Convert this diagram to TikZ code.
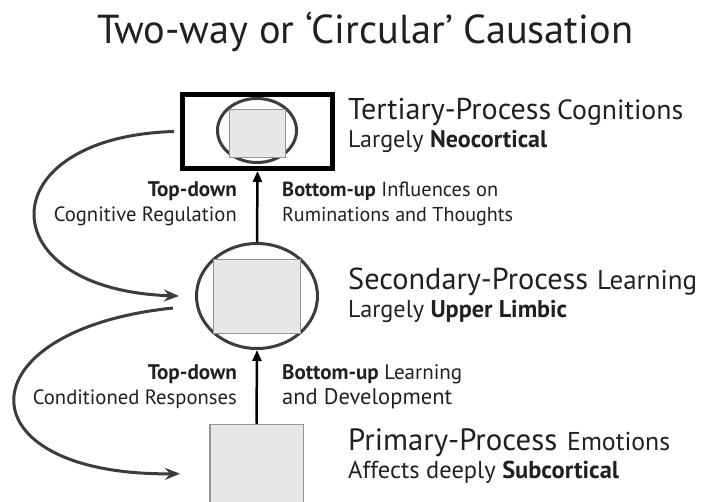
\documentclass[tikz,border=0pt]{standalone}
\usepackage{fontspec}
\setmainfont{PT Sans}
\usetikzlibrary{shapes.geometric,arrows.meta}
\definecolor{ink}{HTML}{231F20}
\definecolor{rim}{HTML}{3C3C3C}
\definecolor{panel}{HTML}{E6E7E8}
\definecolor{panelrim}{HTML}{939598}
% set #2 at the font size that makes it #1 pt wide
\newlength\fitlen
\newcommand\fitto[2]{%
  \setbox0=\hbox{\fontsize{10pt}{12pt}\selectfont #2}%
  \fitlen=\wd0
  \pgfmathsetmacro\fitsize{10*#1/\fitlen}%
  \fontsize{\fitsize pt}{\fitsize pt}\selectfont #2}
\begin{document}
\begin{tikzpicture}[x=1pt,y=-1pt,
  txt/.style={inner sep=0pt,text=ink},
  lefttxt/.style={txt,anchor=base west},
  righttxt/.style={txt,anchor=base east},
  core/.style={draw=panelrim,fill=panel,line width=1.5pt,inner sep=0pt},
  ring/.style={ellipse,draw=rim,line width=3pt,inner sep=0pt},
  upflow/.style={line width=2.5pt,-{Triangle[length=11pt,width=9pt]}},
  loopback/.style={draw=rim,line width=3pt,-{Stealth[length=15pt,width=12pt,inset=5pt]}}]
\useasboundingbox (0,0) rectangle (704,502);

% title
\node[txt,anchor=base west] (title) at (97,44) {\fitto{536}{Two-way or ‘Circular’ Causation}};

% tertiary level: framed box with ring and core
\node[draw=black,line width=5pt,minimum width=150pt,minimum height=74pt,inner sep=0pt] (tbox) at (257.5,131.5) {};
\node[ring,minimum width=79pt,minimum height=64pt] (tring) at (257,130.5) {};
\node[core,minimum width=56pt,minimum height=48pt] (tcore) at (257.5,133.5) {};

% secondary level: ring with core
\node[ring,minimum width=121pt,minimum height=105pt] (mring) at (257,296) {};
\node[core,minimum width=87pt,minimum height=74pt] (mcore) at (257,296.5) {};

% primary level: core running off the bottom
\node[core,anchor=north,minimum width=93.5pt,minimum height=150pt] (bcore) at (256.5,423.75) {};

% bottom-up arrows
\draw[upflow] (mring.north) -- (tbox.south);
\draw[upflow] (bcore.north) -- (mring.south);

% top-down loops
\coordinate (l1s) at ([xshift=-6pt]tbox.west);
\coordinate (l1e) at ([xshift=-16pt]mring.west);
\coordinate (l2s) at ([xshift=-22pt,yshift=-12pt]mring.west);
\coordinate (l2e) at ([xshift=-29pt,yshift=-50pt]bcore.north west);
\draw[loopback] (l1s) .. controls +(-186,5.5) and +(-191,-6) .. (l1e);
\draw[loopback] (l2s) .. controls +(-212,22) and +(-219,2) .. (l2e);

% level captions
\node[lefttxt] (t3h) at (348,120) {\fitto{203}{Tertiary-Process}};
\node[lefttxt] (t3s) at (557,120) {\fitto{126}{Cognitions}};
\node[lefttxt] (t3b) at (348,148) {\fitto{199}{Largely \textbf{Neocortical}}};
\node[lefttxt] (t2h) at (348,290) {\fitto{240}{Secondary-Process}};
\node[lefttxt] (t2s) at (597,290) {\fitto{100}{Learning}};
\node[lefttxt] (t2b) at (348,318) {\fitto{219}{Largely \textbf{Upper Limbic}}};
\node[lefttxt] (t1h) at (348,450) {\fitto{209}{Primary-Process}};
\node[lefttxt] (t1s) at (567,450) {\fitto{103}{Emotions}};
\node[lefttxt] (t1b) at (348,478) {\fitto{271}{Affects deeply \textbf{Subcortical}}};

% influence labels
\node[righttxt] (td1) at (237,197) {\fitto{89}{\textbf{Top-down}}};
\node[righttxt] (td1b) at (237,222) {\fitto{183}{Cognitive Regulation}};
\node[lefttxt] (bu1) at (282,197) {\fitto{216}{\textbf{Bottom-up} Influences on}};
\node[lefttxt] (bu1b) at (282,222) {\fitto{231}{Ruminations and Thoughts}};
\node[righttxt] (td2) at (237,380) {\fitto{89}{\textbf{Top-down}}};
\node[righttxt] (td2b) at (237,404) {\fitto{204}{Conditioned Responses}};
\node[lefttxt] (bu2) at (282,380) {\fitto{180}{\textbf{Bottom-up} Learning}};
\node[lefttxt] (bu2b) at (282,404) {\fitto{170}{and Development}};
\end{tikzpicture}
\end{document}
